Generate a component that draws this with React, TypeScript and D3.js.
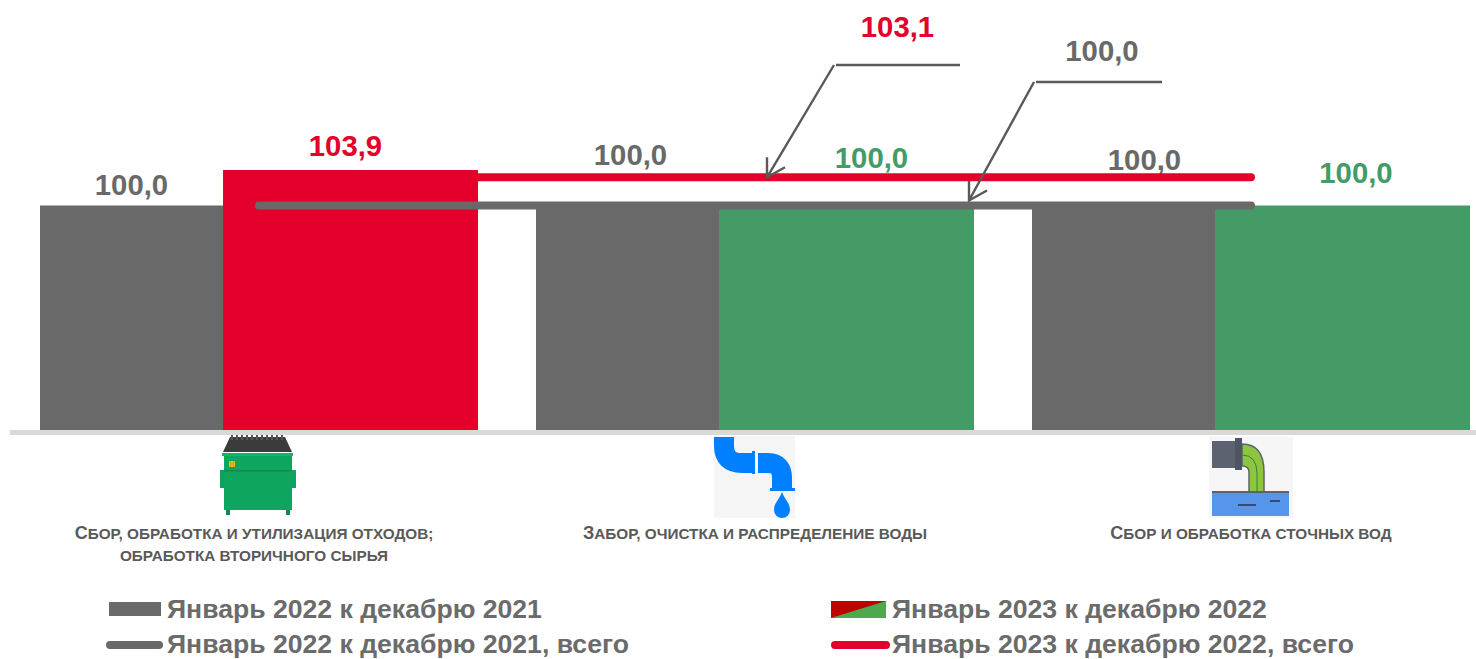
import React from "react";
import * as d3 from "d3";

const categories = ["waste", "water", "sewage"];
const categoryLines = [
  ["Сбор, обработка и утилизация отходов;", "обработка вторичного сырья"],
  ["Забор, очистка и распределение воды"],
  ["Сбор и обработка сточных вод"],
];
const values2022 = [100.0, 100.0, 100.0];
const values2023 = [103.9, 100.0, 100.0];
const total2022 = [100.0, 100.0, 100.0];
const total2023 = [103.1, 103.1, 103.1];
const totalLabel2022 = "100,0";
const totalLabel2023 = "103,1";
const legendLabels = [
  "Январь 2022 к декабрю 2021",
  "Январь 2023 к декабрю 2022",
  "Январь 2022 к декабрю 2021, всего",
  "Январь 2023 к декабрю 2022, всего",
];

const GREY = "#696969";
const RED = "#e4002b";
const GREEN = "#459b66";
const FONT = "'Liberation Sans', Arial, sans-serif";

const fmt = (v: number) => v.toFixed(1).replace(".", ",");

const x = d3.scaleBand<string>().domain(categories).range([40, 1470]).paddingInner(58 / 496).paddingOuter(0);
const yMin = 75.33;
const y = d3.scaleLinear().domain([yMin, 103.9]).range([430, 170]);
const greyShare = 183 / 438;
const center = (c: string) => x(c)! + x.bandwidth() / 2;

const lineGen = d3.line<number>().x((_, i) => center(categories[i])).y((v) => y(v));

// label offsets relative to the bar / value they belong to
const greyLabelOffset = [{ dx: 0, dy: -10.5 }, { dx: 3, dy: -40.5 }, { dx: 21, dy: -35.5 }];
const colorLabelOffset = [{ dx: -5, dy: -14 }, { dx: 25, dy: -37.5 }, { dx: 13.5, dy: -22.5 }];
const lidRibs = [232, 237, 242, 247, 252, 257, 262, 267, 272, 277, 282];

function Callout({ tipX, tipY, elbowX, elbowY, endX, label, labelX, labelY, color }: any) {
  return (
    <g>
      <path
        d={`M${endX} ${elbowY}H${elbowX + 2}M${elbowX} ${elbowY}L${tipX} ${tipY}M${tipX} ${tipY - 20}L${tipX} ${tipY}L${tipX + 18} ${tipY - 10}`}
        fill="none"
        stroke="#595959"
        strokeWidth={2.4}
      />
      <text x={labelX} y={labelY} textAnchor="middle" fontSize={29.3} fontWeight={700} fill={color} fontFamily={FONT}>
        {label}
      </text>
    </g>
  );
}

function Dumpster() {
  return (
    <g filter="url(#soft)">
      <path d="M223 452L230 437H285L292 452Z" fill="#3b3b3b" />
      {lidRibs.map((r) => (
        <path key={r} d={`M${r} 435V440`} stroke="#555" strokeWidth={2} />
      ))}
      <path d="M220 470h4v18h-4zM292 470h4v18h-4z" fill="#0fa35f" />
      <rect x={222} y={453} width={71} height={3} fill="#13b26a" />
      <rect x={224} y={456} width={68} height={54} fill="#0ea55f" />
      <rect x={224} y={470} width={68} height={1.5} fill="#0a8c50" />
      <rect x={229} y={461} width={6} height={6} fill="#d9b70f" />
      <rect x={226} y={510} width={4} height={5} fill="#0a8c50" />
      <rect x={286} y={510} width={4} height={5} fill="#0a8c50" />
    </g>
  );
}

function Faucet() {
  const b = "#0080ff";
  return (
    <g>
      <rect x={714} y={436} width={81} height={82} fill="#f5f5f5" />
      <g filter="url(#soft)">
        <path d="M724 437V446Q724 463 742 463H752" fill="none" stroke={b} strokeWidth={20} />
        <rect x={752} y={451} width={3} height={23} fill={b} />
        <path d="M758 463H768Q782 463 782 478V489" fill="none" stroke={b} strokeWidth={20} />
        <rect x={770} y={488} width={25} height={3} fill={b} />
        <path d="M782 492C785 500 790 503 790 510A8 8 0 0 1 774 510C774 503 779 500 782 492Z" fill={b} />
      </g>
    </g>
  );
}

function Pipe() {
  return (
    <g>
      <rect x={1209} y={437} width={84} height={81} fill="#f6f6f6" />
      <g filter="url(#soft)">
        <path d="M1242 444Q1264 444 1264 472V492H1249V472Q1249 466 1242 466Z" fill="#8cc63f" stroke="#5b6270" strokeWidth={1.5} />
        <path d="M1242 455Q1257 455 1257 474V492" fill="none" stroke="#3f7d3a" strokeWidth={1} />
        <rect x={1212} y={441} width={23} height={27} fill="#5b6270" />
        <rect x={1235} y={438} width={7} height={32} fill="#4f5663" />
        <rect x={1212} y={492} width={77} height={24} fill="#5596ea" />
        <rect x={1212} y={491} width={77} height={2} fill="#5b6270" />
        <rect x={1238} y={504} width={18} height={2} fill="#3f4a63" />
        <rect x={1270} y={500} width={10} height={2} fill="#3f4a63" />
      </g>
    </g>
  );
}

export default function App() {
  const labelStyle = { fontFamily: FONT, fontWeight: 700, fontSize: 29.3, textAnchor: "middle" as const };
  const legendStyle = { fontFamily: FONT, fontWeight: 700, fontSize: 26.6, fill: "#6b6b6b" };
  return (
    <svg
      width={1476}
      height={659}
      viewBox="0 0 1476 659"
      style={{ position: "absolute", left: 0, top: 0, display: "block", background: "#fff" }}
    >
      <defs>
        <filter id="soft" x="-20%" y="-20%" width="140%" height="140%">
          <feGaussianBlur stdDeviation={0.6} />
        </filter>
      </defs>
      <rect x={10} y={430} width={1466} height={5} fill="#d9d9d9" />
      {categories.map((c, i) => {
        const x0 = x(c)!;
        const w0 = x.bandwidth() * greyShare;
        const w1 = x.bandwidth() - w0;
        return (
          <g key={c}>
            <rect x={x0} y={y(values2022[i])} width={w0} height={y(yMin) - y(values2022[i])} fill={GREY} />
            <rect
              x={x0 + w0}
              y={y(values2023[i])}
              width={w1}
              height={y(yMin) - y(values2023[i])}
              fill={i === 0 ? RED : GREEN}
            />
            <text
              {...labelStyle}
              x={x0 + w0 / 2 + greyLabelOffset[i].dx}
              y={y(values2022[i]) + greyLabelOffset[i].dy}
              fill={GREY}
            >
              {fmt(values2022[i])}
            </text>
            <text
              {...labelStyle}
              x={x0 + w0 + w1 / 2 + colorLabelOffset[i].dx}
              y={y(values2023[i]) + colorLabelOffset[i].dy}
              fill={i === 0 ? RED : GREEN}
            >
              {fmt(values2023[i])}
            </text>
          </g>
        );
      })}
      <path d={lineGen(total2023)!} fill="none" stroke={RED} strokeWidth={8} strokeLinecap="round" />
      <path d={lineGen(total2022)!} fill="none" stroke={GREY} strokeWidth={8} strokeLinecap="round" />

      <Callout tipX={767} tipY={y(total2023[1])} elbowX={834} elbowY={65} endX={960} label={totalLabel2023} labelX={897.5} labelY={37} color={RED} />
      <Callout tipX={969} tipY={y(total2022[1]) - 5} elbowX={1034} elbowY={82} endX={1162} label={totalLabel2022} labelX={1102} labelY={61} color={GREY} />

      <Dumpster />
      <Faucet />
      <Pipe />

      {categories.map((c, i) =>
        categoryLines[i].map((t, j) => {
          const head = t[0];
          const big = head !== head.toLowerCase();
          return (
            <text
              key={t}
              x={center(c) + (i === 0 ? -5 : 0)}
              y={539 + j * 22}
              textAnchor="middle"
              fontFamily={FONT}
              fontWeight={700}
              fontSize={15.3}
              fill="#595959"
            >
              {big ? <tspan fontSize={18}>{head}</tspan> : null}
              {(big ? t.slice(1) : t).toUpperCase()}
            </text>
          );
        })
      )}

      <rect x={109} y={602} width={52} height={14} fill={GREY} />
      <text {...legendStyle} x={167} y={618}>{legendLabels[0]}</text>
      <path d="M831 601H886V618H831Z" fill="#4ea84e" />
      <path d="M831 601H886L831 618Z" fill="#c00000" />
      <text {...legendStyle} x={892} y={618}>{legendLabels[1]}</text>
      <path d="M110 645H159" stroke={GREY} strokeWidth={8} strokeLinecap="round" />
      <text {...legendStyle} x={167} y={653}>{legendLabels[2]}</text>
      <path d="M835 645H886" stroke={RED} strokeWidth={8} strokeLinecap="round" />
      <text {...legendStyle} x={892} y={653}>{legendLabels[3]}</text>
    </svg>
  );
}
